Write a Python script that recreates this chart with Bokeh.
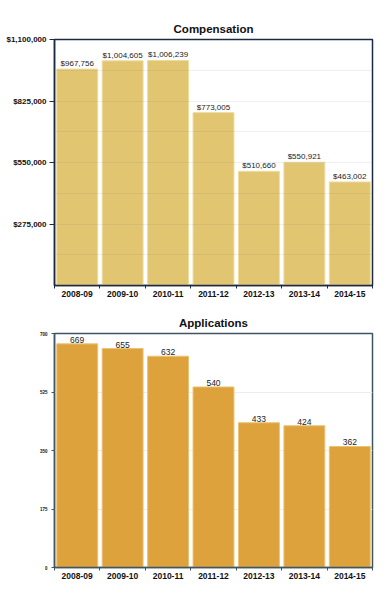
from bokeh.plotting import figure
from bokeh.layouts import column
from bokeh.models import ColumnDataSource, FixedTicker
from bokeh.core.properties import value
from bokeh.embed import file_html
from bokeh.resources import INLINE

seasons = ["2008-09", "2009-10", "2010-11", "2011-12", "2012-13", "2013-14", "2014-15"]
compensation = [967756, 1004605, 1006239, 773005, 510660, 550921, 463002]
applications = [669, 655, 632, 540, 433, 424, 362]
comp_ticks = [275000, 550000, 825000, 1100000]
comp_tick_labels = ["$275,000", "$550,000", "$825,000", "$1,100,000"]
app_ticks = [0, 175, 350, 525, 700]

FONT = "Liberation Sans"

xs = [i + 0.5 for i in range(len(seasons))]
bounds = list(range(len(seasons) + 1))


def make(vals, labels, title, ymax, width, height, mb_left, mb_right, mb_top, mb_bottom, bar_color, bar_line, frame_color):
    src = ColumnDataSource(dict(x=xs, v=vals, season=seasons, lab=labels))
    p = figure(width=width, height=height, x_range=(0, len(seasons)), y_range=(0, ymax),
               output_backend="svg", toolbar_location=None, title=title,
               min_border_left=mb_left, min_border_right=mb_right,
               min_border_top=mb_top, min_border_bottom=mb_bottom)
    p.title.align = "center"
    p.title.text_font = FONT
    p.title.text_font_style = "bold"
    p.title.text_font_size = "11.5px"
    p.title.text_color = "#111111"
    p.title.standoff = 10
    p.vbar(x="x", top="v", width=0.9, bottom=0, source=src,
           fill_color=bar_color, line_color=bar_line, line_width=1)
    p.outline_line_color = frame_color
    p.outline_line_width = 1.5
    p.xgrid.grid_line_color = None
    xa = p.xaxis[0]
    xa.ticker = FixedTicker(ticks=xs, minor_ticks=bounds)
    xa.major_label_overrides = {x: s for x, s in zip(xs, seasons)}
    xa.major_tick_line_color = None
    xa.major_tick_out = 3
    xa.minor_tick_out = 3
    xa.minor_tick_in = 0
    xa.minor_tick_line_color = frame_color
    xa.axis_line_color = frame_color
    xa.axis_line_width = 1.5
    xa.major_label_text_font = FONT
    xa.major_label_text_font_style = "bold"
    xa.major_label_text_font_size = "8.5px"
    xa.major_label_text_color = "#111111"
    xa.major_label_standoff = 2
    ya = p.yaxis[0]
    ya.axis_line_color = frame_color
    ya.axis_line_width = 1.5
    ya.minor_tick_line_color = None
    ya.major_label_text_font = FONT
    ya.major_label_text_font_style = "bold"
    ya.major_label_text_color = "#111111"
    return p, src


top, tsrc = make(compensation, [f"${v:,}" for v in compensation], "Compensation", 1100000,
                 381, 308, 54, 8, 39, 23, "#E1C570", "#EEDB9E", "#1B2A44")
ya = top.yaxis[0]
ya.ticker = FixedTicker(ticks=comp_ticks)
ya.major_label_overrides = {t: s for t, s in zip(comp_ticks, comp_tick_labels)}
ya.major_label_text_font_size = "8px"
ya.major_tick_out = 5
ya.major_tick_in = 0
ya.major_tick_line_color = "#1B2A44"
ya.major_label_standoff = 3
top.ygrid.ticker = FixedTicker(ticks=[137500 * i for i in range(1, 8)])
top.ygrid.grid_line_color = "#808080"
top.ygrid.grid_line_alpha = 0.13
top.ygrid.level = "overlay"
top.text(x="x", y="v", text="lab", source=tsrc,
         text_align="center", text_baseline="bottom", y_offset=-1,
         text_font=value(FONT), text_font_size="8px", text_color="#222222")

bot, bsrc = make(applications, [str(v) for v in applications], "Applications", 700,
                 381, 284, 52, 9, 25, 25, "#DDA23C", "#EBC272", "#3C5664")
ya = bot.yaxis[0]
ya.ticker = FixedTicker(ticks=app_ticks)
ya.major_label_text_font_size = "4.5px"
ya.major_tick_out = 3
ya.major_tick_in = 0
ya.major_tick_line_color = "#3C5664"
ya.major_label_standoff = 4
bot.ygrid.ticker = FixedTicker(ticks=app_ticks[1:-1])
bot.ygrid.grid_line_color = "#EDEDED"
bot.text(x="x", y="v", text="lab", source=bsrc,
         text_align="center", text_baseline="bottom", y_offset=-1,
         text_font=value(FONT), text_font_size="8.5px", text_color="#222222")

layout = column(top, bot, spacing=0)
open("out.html", "w").write(file_html(layout, INLINE))
